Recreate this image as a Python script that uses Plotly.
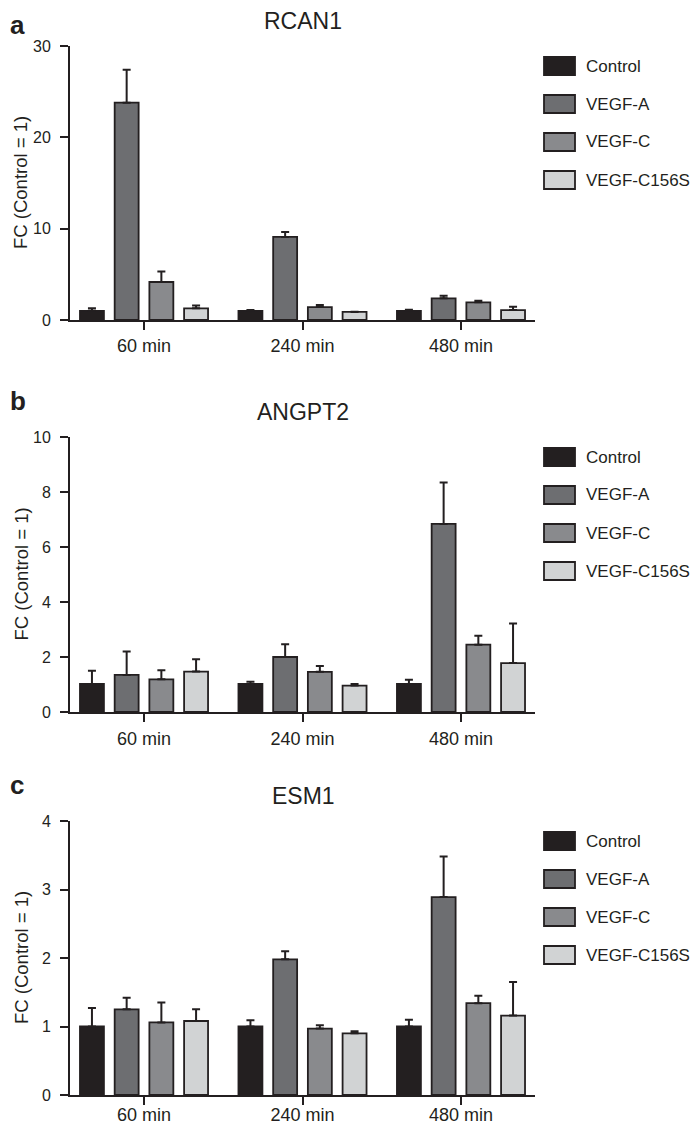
import plotly.graph_objects as go
from plotly.subplots import make_subplots

# time points and treatments
times = ["60 min", "240 min", "480 min"]
groups = ["Control", "VEGF-A", "VEGF-C", "VEGF-C156S"]
colors = ["#231f20", "#6d6e71", "#898a8d", "#d1d3d4"]

# RCAN1 means and upper error bar tops
rcan1_mean = {"Control": [1.0, 1.0, 1.0], "VEGF-A": [23.8, 9.1, 2.37],
              "VEGF-C": [4.16, 1.42, 1.93], "VEGF-C156S": [1.28, 0.88, 1.09]}
rcan1_top = {"Control": [1.3, 1.1, 1.13], "VEGF-A": [27.4, 9.63, 2.66],
             "VEGF-C": [5.3, 1.64, 2.12], "VEGF-C156S": [1.6, 0.9, 1.46]}

# ANGPT2
angpt2_mean = {"Control": [1.02, 1.02, 1.02], "VEGF-A": [1.35, 2.0, 6.84],
               "VEGF-C": [1.19, 1.46, 2.45], "VEGF-C156S": [1.47, 0.96, 1.78]}
angpt2_top = {"Control": [1.5, 1.1, 1.17], "VEGF-A": [2.2, 2.46, 8.35],
              "VEGF-C": [1.52, 1.67, 2.77], "VEGF-C156S": [1.92, 1.02, 3.22]}

# ESM1
esm1_mean = {"Control": [1.0, 1.0, 1.0], "VEGF-A": [1.25, 1.98, 2.89],
             "VEGF-C": [1.06, 0.97, 1.34], "VEGF-C156S": [1.08, 0.9, 1.16]}
esm1_top = {"Control": [1.27, 1.09, 1.1], "VEGF-A": [1.42, 2.1, 3.48],
            "VEGF-C": [1.35, 1.02, 1.45], "VEGF-C156S": [1.25, 0.93, 1.65]}

panels = [("a", "RCAN1", rcan1_mean, rcan1_top, 30, 10),
          ("b", "ANGPT2", angpt2_mean, angpt2_top, 10, 2),
          ("c", "ESM1", esm1_mean, esm1_top, 4, 1)]

# the page body has an 8px margin, so the figure starts at (8, 8) in the window
OFF = 8
W, H = 700 - 2 * OFF, 1133 - 2 * OFF
ink = "#231f20"
font = "Liberation Sans, Arial, Helvetica, sans-serif"


def px(x):
    return (x - OFF) / W


def py(y):
    return 1 - (y - OFF) / H


# plot area (top, bottom) in window pixels, plus per panel text spots
boxes = [(46, 320), (437, 712), (821, 1095)]
ytitle_x = [21, 21, 22]
letter_y = [25, 401, 785]
xlab_standoff = [0, 1, -6]

fig = make_subplots(rows=3, cols=1)

for i, (letter, name, mean, top, ymax, dt) in enumerate(panels):
    r = i + 1
    for g, c in zip(groups, colors):
        up = [t - m for t, m in zip(top[g], mean[g])]
        fig.add_trace(go.Bar(
            x=times, y=mean[g], name=g, showlegend=False,
            marker=dict(color=c, line=dict(color=ink, width=1.8)),
            error_y=dict(type="data", symmetric=False, array=up,
                         arrayminus=[0] * len(up), color=ink,
                         thickness=2, width=4),
        ), row=r, col=1)

    t, b = boxes[i]
    fig.update_xaxes(domain=[px(70), px(535)], range=[-0.467, 2.467],
                     showline=True, linecolor=ink, linewidth=2,
                     ticks="outside", ticklen=8, tickwidth=2, tickcolor=ink,
                     ticklabelstandoff=xlab_standoff[i], automargin=False,
                     tickfont=dict(size=18, color=ink, family=font),
                     showgrid=False, zeroline=False, row=r, col=1)
    fig.update_yaxes(domain=[py(b), py(t)], range=[0, ymax], dtick=dt,
                     showline=True, linecolor=ink, linewidth=2,
                     ticks="outside", ticklen=8, tickwidth=2, tickcolor=ink,
                     ticklabelstandoff=6, automargin=False,
                     tickfont=dict(size=16, color=ink, family=font),
                     showgrid=False, zeroline=False, row=r, col=1)

    # panel letter, gene title, y title
    fig.add_annotation(text="<b>" + letter + "</b>", xref="paper", yref="paper",
                       x=px(8), y=py(letter_y[i]), xanchor="left", yanchor="middle",
                       showarrow=False, font=dict(size=26, color=ink, family=font))
    fig.add_annotation(text=name, xref="paper", yref="paper",
                       x=px(303), y=py(t - 25), xanchor="center", yanchor="middle",
                       showarrow=False, font=dict(size=23, color=ink, family=font))
    fig.add_annotation(text="FC (Control = 1)", xref="paper", yref="paper",
                       x=px(ytitle_x[i]), y=py((t + b) / 2), textangle=-90,
                       xanchor="center", yanchor="middle",
                       showarrow=False, font=dict(size=18.5, color=ink, family=font))

    # legend swatches
    for k, (g, c) in enumerate(zip(groups, colors)):
        cy = t + 20 + 38 * k
        fig.add_shape(type="rect", xref="paper", yref="paper",
                      x0=px(544), x1=px(575), y0=py(cy + 9), y1=py(cy - 9),
                      fillcolor=c, line=dict(color=ink, width=1.8))
        fig.add_annotation(text=g, xref="paper", yref="paper",
                           x=px(584), y=py(cy), xanchor="left", yanchor="middle",
                           showarrow=False, font=dict(size=17, color=ink, family=font))

fig.update_layout(
    width=W, height=H, barmode="group", bargap=0.124, bargroupgap=0.31,
    margin=dict(l=0, r=0, t=0, b=0, autoexpand=False),
    plot_bgcolor="white", paper_bgcolor="white",
    font=dict(family=font, color=ink),
)

fig.write_html("out.html")
